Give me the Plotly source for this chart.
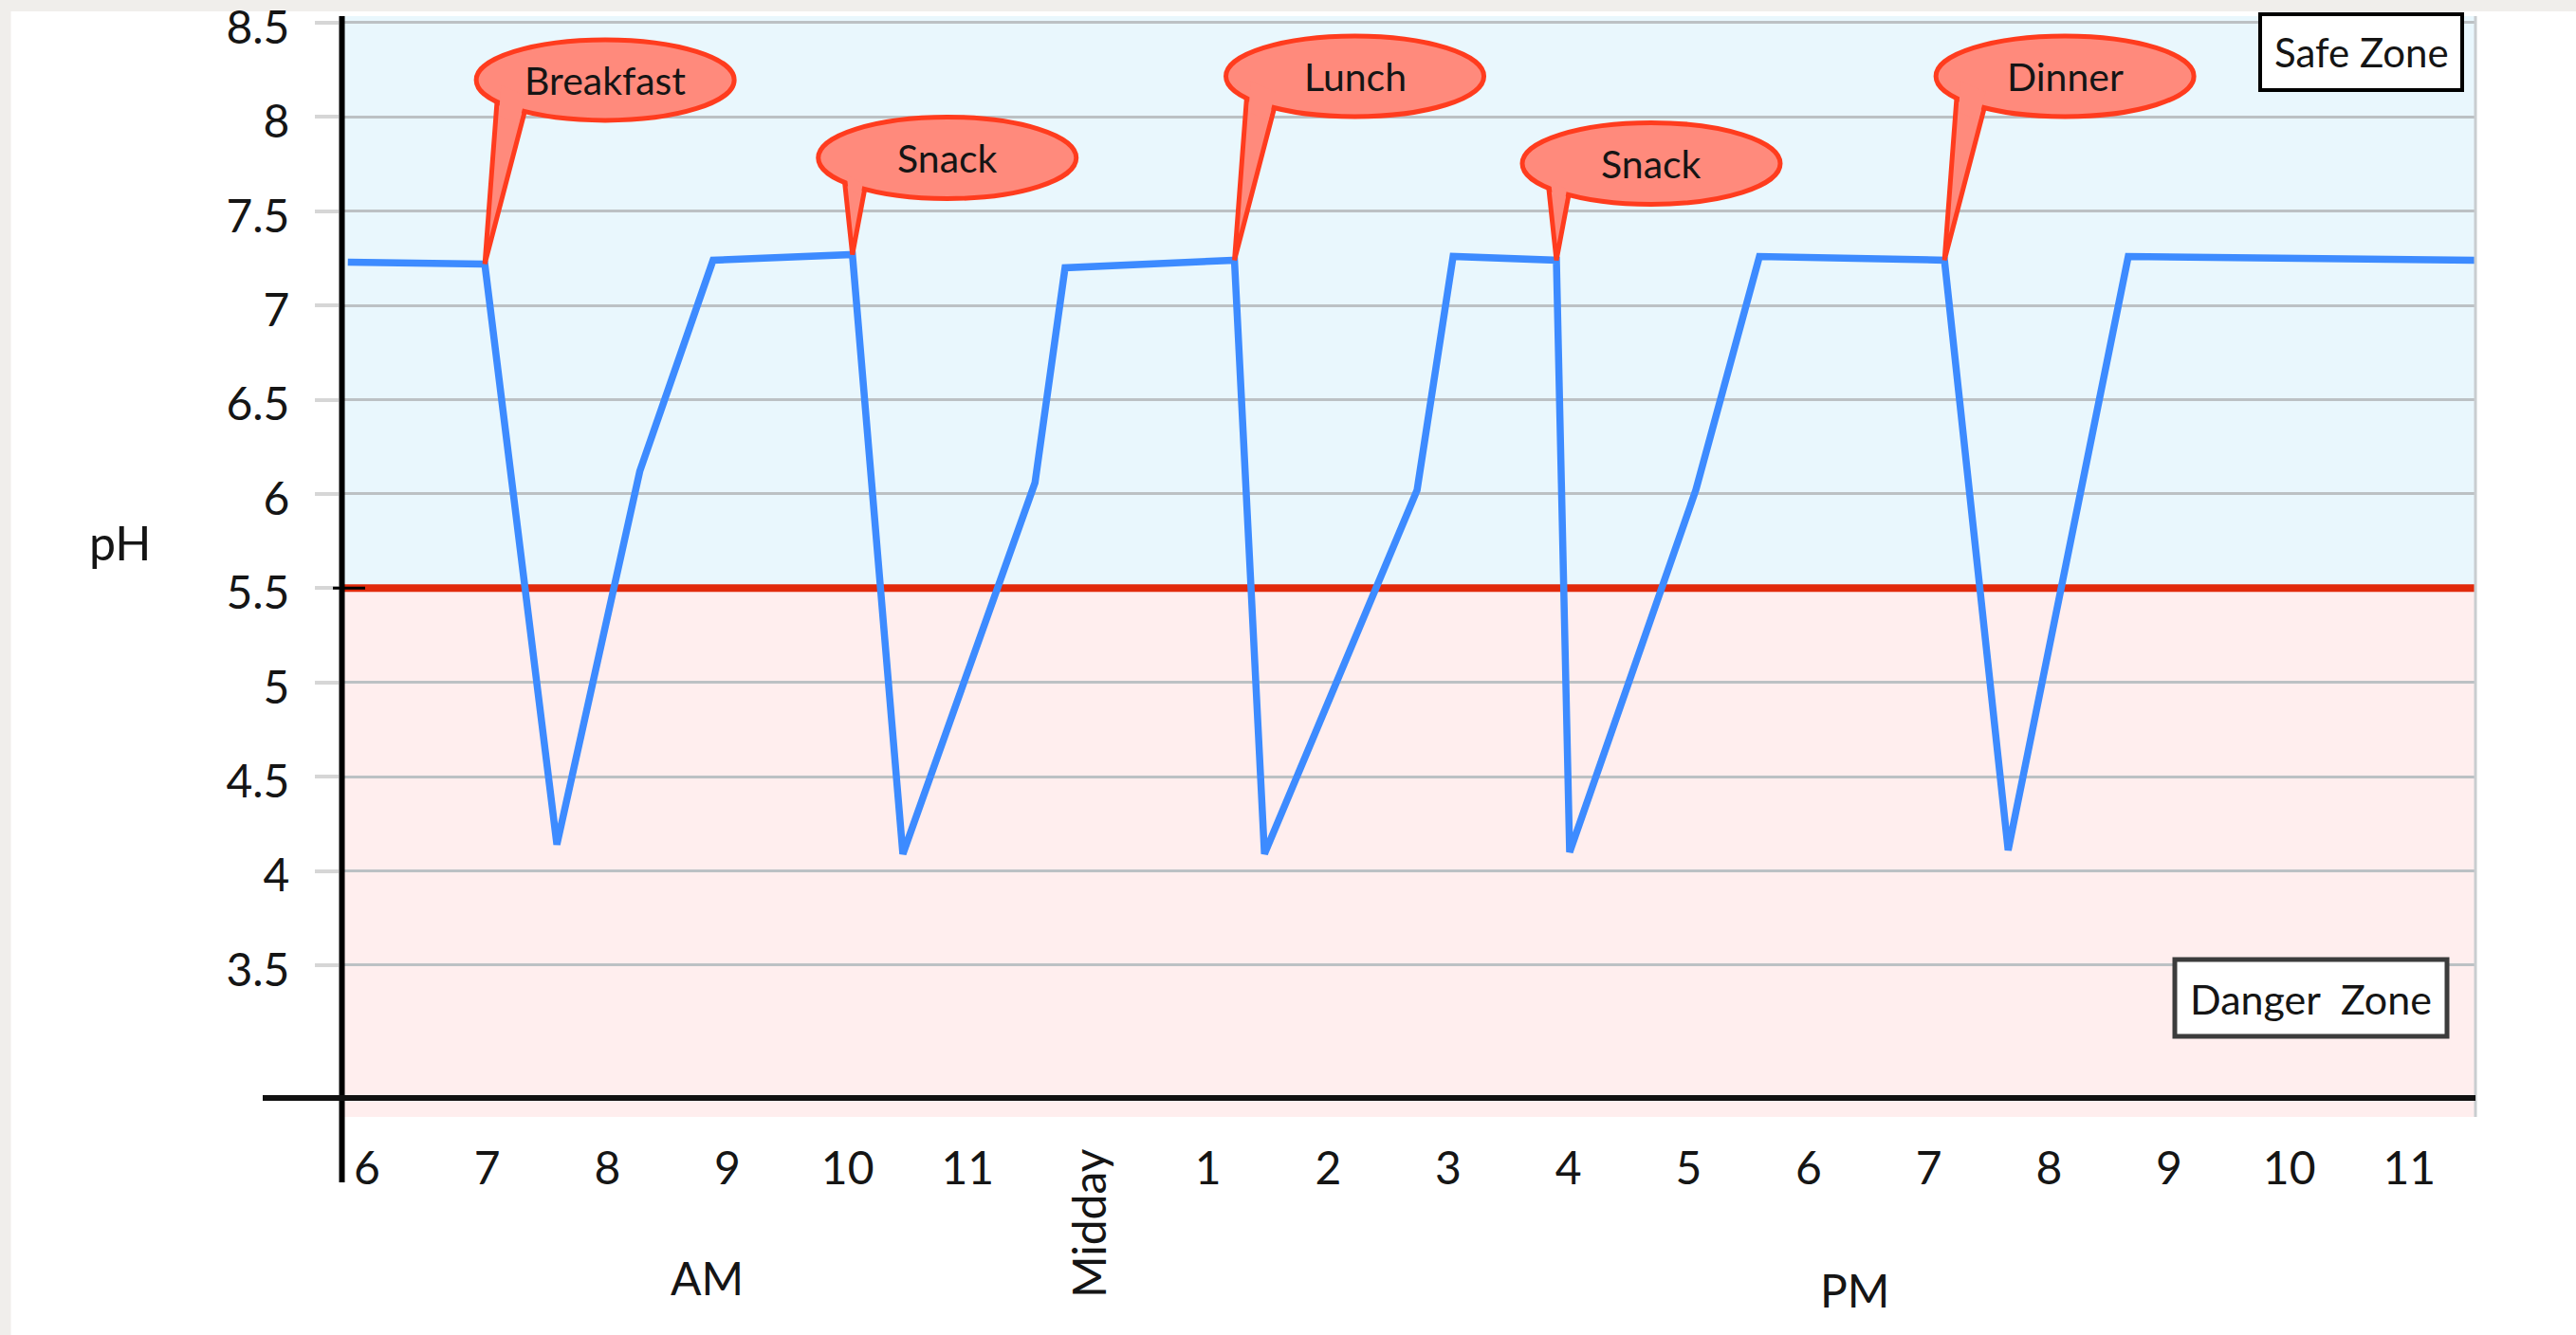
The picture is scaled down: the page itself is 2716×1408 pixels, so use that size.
import plotly.graph_objects as go

# ---------------- data ----------------
HOURS = [5.84, 6.98, 7.58, 8.27, 8.88, 10.04, 10.46, 11.56, 11.81, 13.22, 13.47,
         14.74, 15.04, 15.90, 16.01, 17.06, 17.59, 19.13, 19.66, 20.66, 23.55]
PH = [7.23, 7.22, 4.14, 6.12, 7.24, 7.27, 4.09, 6.06, 7.20, 7.24, 4.09,
      6.02, 7.26, 7.24, 4.10, 6.02, 7.26, 7.24, 4.11, 7.26, 7.24]

MEAL_LABELS = ["Breakfast", "Snack", "Lunch", "Snack", "Dinner"]
MEAL_POINT_INDEX = [1, 5, 9, 13, 17]
MEAL_KIND = ["meal", "snack", "meal", "snack", "meal"]

X_TICK_HOURS = list(range(6, 24))
X_TICK_LABELS = ["6", "7", "8", "9", "10", "11", "Midday", "1", "2", "3", "4",
                 "5", "6", "7", "8", "9", "10", "11"]
Y_TICKS = [3.5, 4, 4.5, 5, 5.5, 6, 6.5, 7, 7.5, 8, 8.5]
Y_TICK_LABELS = ["3.5", "4", "4.5", "5", "5.5", "6", "6.5", "7", "7.5", "8", "8.5"]
CRITICAL_PH = 5.5

# ---------------- layout constants ----------------
W, H = 2716, 1408
L, R, T, B = 358, 106, 17, 230
PW, PH_ = W - L - R, H - T - B
X_RANGE = [5.771, 23.55]
Y_RANGE = [2.695, 8.535]
BASELINE_LEVEL = 2.796

FONT = "Lato, 'Open Sans', sans-serif"
TXT = "#151515"
BLUE_LINE = "#3d8bff"
RED_LINE = "#e12a0c"
SALMON = "#ff8a7c"
BALLOON_EDGE = "#ff3c1e"
SAFE_BG = "#e9f7fd"
DANGER_BG = "#ffeeee"
STRIP = "#f0eeeb"


def px(X):
    return (X - L) / PW


def py(Y):
    return (H - B - Y) / PH_


fig = go.Figure()
# critical pH threshold (drawn under the pH curve)
fig.add_trace(go.Scatter(
    x=X_RANGE, y=[CRITICAL_PH, CRITICAL_PH], mode="lines",
    line=dict(color=RED_LINE, width=8),
    hoverinfo="skip", showlegend=False,
))
fig.add_trace(go.Scatter(
    x=HOURS, y=PH, mode="lines",
    line=dict(color=BLUE_LINE, width=7.5),
    hoverinfo="skip", showlegend=False,
))

shapes = []
# outer strips
shapes.append(dict(type="rect", xref="paper", yref="paper",
                   x0=px(0) - 0.02, x1=px(W) + 0.02, y0=py(12), y1=py(0) + 0.02,
                   fillcolor=STRIP, line=dict(width=0), layer="below"))
shapes.append(dict(type="rect", xref="paper", yref="paper",
                   x0=px(0) - 0.02, x1=px(11.5), y0=py(H) - 0.02, y1=py(0) + 0.02,
                   fillcolor=STRIP, line=dict(width=0), layer="below"))
# zones
shapes.append(dict(type="rect", xref="paper", yref="y", x0=0, x1=1,
                   y0=CRITICAL_PH, y1=Y_RANGE[1], fillcolor=SAFE_BG,
                   line=dict(width=0), layer="below"))
shapes.append(dict(type="rect", xref="paper", yref="y", x0=0, x1=1,
                   y0=Y_RANGE[0], y1=CRITICAL_PH, fillcolor=DANGER_BG,
                   line=dict(width=0), layer="below"))
shapes.append(dict(type="line", xref="paper", yref="y", x0=px(351), x1=px(385),
                   y0=CRITICAL_PH, y1=CRITICAL_PH,
                   line=dict(color="#000000", width=3), layer="above"))
# right edge
shapes.append(dict(type="line", xref="paper", yref="paper", x0=1, x1=1, y0=0, y1=1,
                   line=dict(color="#c9cdd0", width=3), layer="above"))
# axes lines
shapes.append(dict(type="line", xref="paper", yref="paper", x0=px(360.5), x1=px(360.5),
                   y0=py(1247), y1=py(17), line=dict(color="#000000", width=6),
                   layer="above"))
shapes.append(dict(type="line", xref="paper", yref="y", x0=px(277), x1=1,
                   y0=BASELINE_LEVEL, y1=BASELINE_LEVEL,
                   line=dict(color="#111111", width=6), layer="above"))
# zone label boxes
shapes.append(dict(type="rect", xref="paper", yref="paper",
                   x0=px(2383), x1=px(2596), y0=py(95), y1=py(15),
                   fillcolor="white", line=dict(color="#000000", width=4), layer="above"))
shapes.append(dict(type="rect", xref="paper", yref="paper",
                   x0=px(2293), x1=px(2580), y0=py(1093), y1=py(1012),
                   fillcolor="white", line=dict(color="#3c3c3c", width=5), layer="above"))

# callout balloons anchored at meal points (pixel offsets, +y is up)
GEOM = {
    "meal": dict(cx=127, cy=194, rx=136, ry=42.5, bl=(12.7, 168.4), br=(41.4, 158.4)),
    "snack": dict(cx=100, cy=102, rx=136, ry=43, bl=(-8.0, 75.0), br=(12.5, 66.5)),
}


def scale(p, t, dx=0.0):
    return (p[0] * t + dx, p[1] * t)


def path(points):
    s = "M{:.1f},{:.1f}".format(*points[0])
    for p in points[1:]:
        s += " L{:.1f},{:.1f}".format(*p)
    return s + " Z"


annotations = []
for label_text, idx, kind in zip(MEAL_LABELS, MEAL_POINT_INDEX, MEAL_KIND):
    g = GEOM[kind]
    ax, ay = HOURS[idx], PH[idx]
    common = dict(xref="x", yref="y", xsizemode="pixel", ysizemode="pixel",
                  xanchor=ax, yanchor=ay, layer="above")
    tail = [(0, 0), scale(g["br"], 1.12), scale(g["bl"], 1.12)]
    shapes.append(dict(type="path", path=path(tail), fillcolor=SALMON,
                       line=dict(color=BALLOON_EDGE, width=5), **common))
    shapes.append(dict(type="circle", x0=g["cx"] - g["rx"], x1=g["cx"] + g["rx"],
                       y0=g["cy"] - g["ry"], y1=g["cy"] + g["ry"],
                       fillcolor=SALMON, line=dict(color=BALLOON_EDGE, width=5),
                       **common))
    patch = [scale(g["bl"], 0.93, 3), scale(g["br"], 0.93, -3),
             scale(g["br"], 1.12, -3), scale(g["bl"], 1.12, 3)]
    shapes.append(dict(type="path", path=path(patch), fillcolor=SALMON,
                       line=dict(width=0), **common))
    annotations.append(dict(x=ax, y=ay, xref="x", yref="y", xshift=g["cx"],
                            yshift=g["cy"], text=label_text, showarrow=False,
                            xanchor="center", yanchor="middle",
                            font=dict(family=FONT, size=41, color=TXT)))


def label(x, y, text, size, xref="paper", angle=0):
    return dict(x=x, xref=xref, y=y, yref="paper", text=text, textangle=angle,
                showarrow=False, xanchor="center", yanchor="middle",
                font=dict(family=FONT, size=size, color=TXT))


annotations += [
    label(12, py(1290), "Midday", 48, xref="x", angle=-90),
    label(px(745), py(1347), "AM", 48),
    label(px(1955), py(1360), "PM", 48),
    label(px(126), py(572), "pH", 50),
    label(px(2489.5), py(55), "Safe Zone", 42),
    label(px(2436), py(1053), "Danger\u00a0 Zone", 43),
]

fig.update_layout(
    width=W, height=H, autosize=False,
    margin=dict(l=L, r=R, t=T, b=B, pad=0, autoexpand=False),
    paper_bgcolor="white", plot_bgcolor="white",
    showlegend=False,
    shapes=shapes, annotations=annotations,
    font=dict(family=FONT, color=TXT),
    xaxis=dict(range=X_RANGE, tickmode="array", tickvals=X_TICK_HOURS,
               ticktext=["" if t == "Midday" else t for t in X_TICK_LABELS],
               showgrid=False, zeroline=False, showline=False, ticks="",
               automargin=False,
               ticklabelstandoff=22, ticklabeloverflow="allow",
               tickfont=dict(family=FONT, size=48, color=TXT), fixedrange=True),
    yaxis=dict(range=Y_RANGE, tickmode="array", tickvals=Y_TICKS,
               ticktext=Y_TICK_LABELS, showgrid=True, gridcolor="#bcc1c4",
               gridwidth=3, zeroline=False, showline=False, ticks="outside",
               ticklen=25, tickwidth=4, tickcolor="#d6d6d6", automargin=False,
               ticklabelstandoff=17, ticklabelshift=5, ticklabeloverflow="allow",
               tickfont=dict(family=FONT, size=48, color=TXT), fixedrange=True),
)

fig.write_html("out.html", config={"displayModeBar": False},
               post_script="document.body.style.margin='0';document.body.style.overflow='hidden';")
